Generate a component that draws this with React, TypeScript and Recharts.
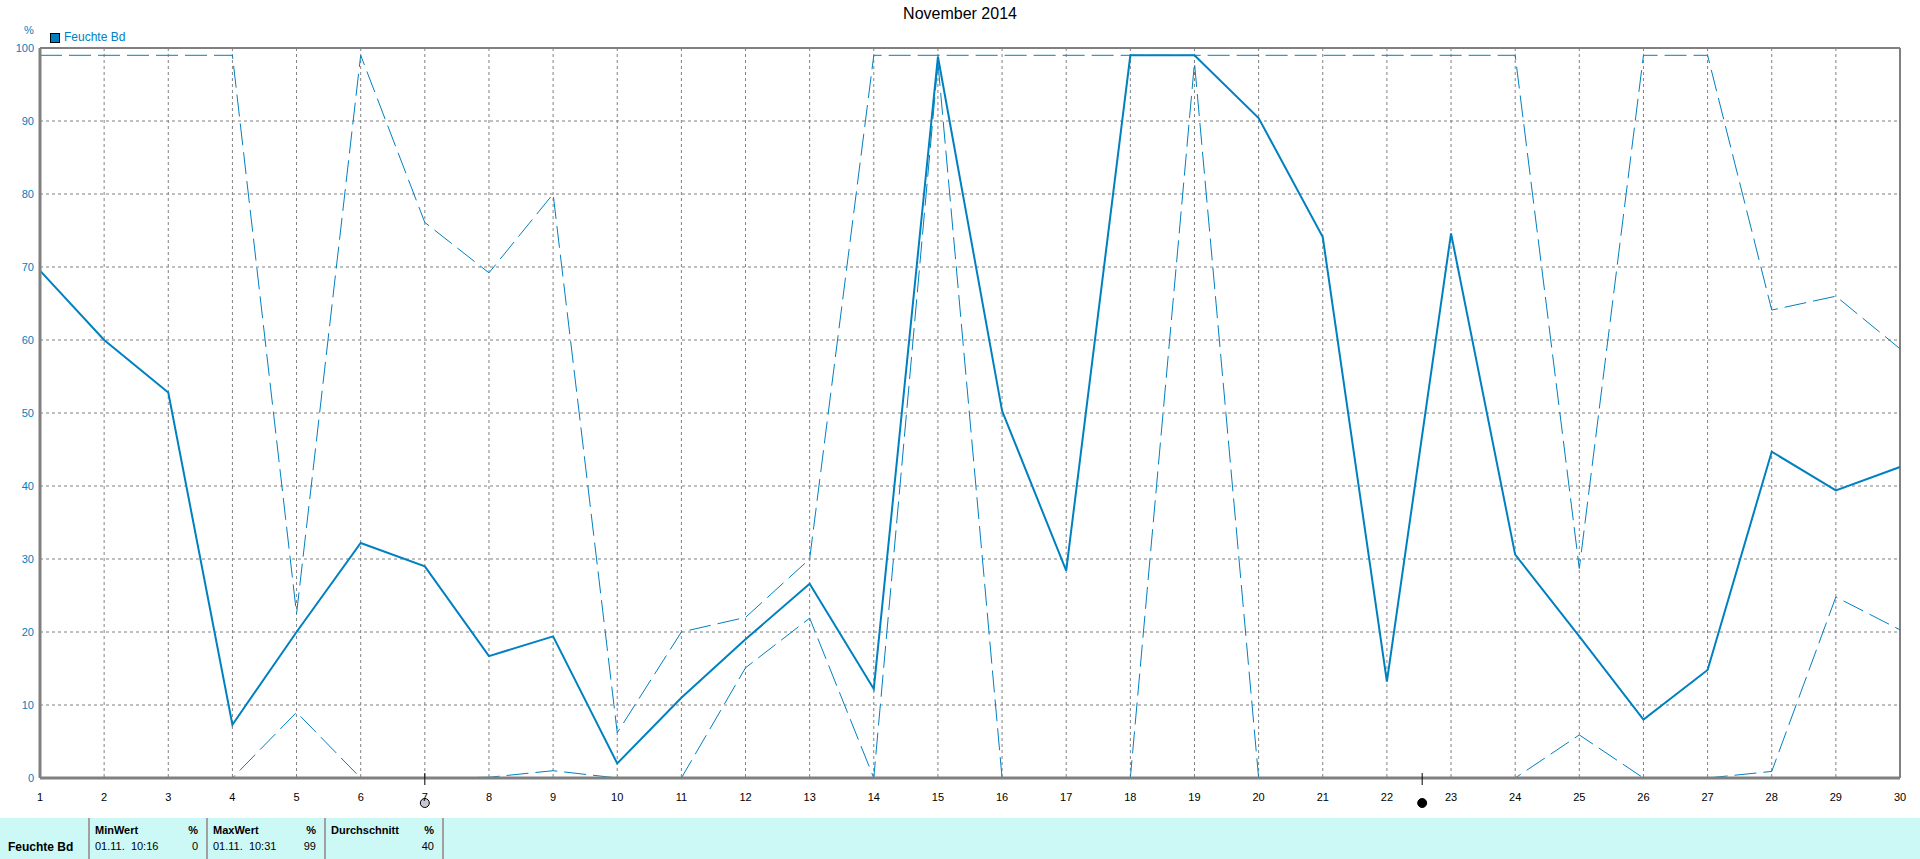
import { LineChart, Line, XAxis, YAxis, CartesianGrid, ReferenceLine, ReferenceDot } from 'recharts';

const days = [1, 2, 3, 4, 5, 6, 7, 8, 9, 10, 11, 12, 13, 14, 15, 16, 17, 18, 19, 20, 21, 22, 23, 24, 25, 26, 27, 28, 29, 30];

// Tagesmittel, Maximum, Minimum der Feuchte (%)
const humAvg = [69.5, 60, 52.8, 7.3, 20, 32.2, 29, 16.7, 19.4, 2, 11, 19, 26.6, 12.2, 98.8, 50.3, 28.4, 99, 99, 90.4, 74.1, 13.2, 74.6, 30.6, 19.4, 8, 14.8, 44.7, 39.4, 42.6];
const humMax = [99, 99, 99, 99, 22.5, 99, 76.1, 69.2, 80, 6.2, 20, 22, 30, 99, 99, 99, 99, 99, 99, 99, 99, 99, 99, 99, 28.7, 99, 99, 64.1, 66, 58.8];
const humMin = [0, 0, 0, 0, 9, 0, 0, 0.1, 1, 0, 0, 15.1, 21.9, 0, 98, 0, 0, 0, 98, 0, 0, 0, 0, 0, 5.9, 0, 0, 0.9, 24.8, 20.3];

const yTicks = [0, 10, 20, 30, 40, 50, 60, 70, 80, 90, 100];

// Mondphasen: Vollmond, Neumond
const moonDays = [7, 22.55];
const moonFill = ['#c8c8c8', '#000000'];

const statHeaders = ['MinWert', 'MaxWert', 'Durchschnitt'];
const statTimes = ['01.11.  10:16', '01.11.  10:31', ''];
const statValues = ['0', '99', '40'];

const BLUE = '#0080c0';
const GRAY = '#808080';

const chartData = days.map((d, i) => ({ day: d, avg: humAvg[i], max: humMax[i], min: humMin[i] }));

const MoonMark = (fill: string) => (props: any) => {
  const { cx, cy } = props;
  return (
    <g>
      <line x1={cx} y1={cy - 5} x2={cx} y2={cy + 7} stroke="#000" strokeWidth={1} />
      <circle cx={cx} cy={cy + 25} r={4.5} fill={fill} stroke="#000" strokeWidth={1} />
    </g>
  );
};

const App = () => {
  return (
    <div style={{ position: 'absolute', left: 0, top: 0, width: 1920, height: 859, background: '#fff', fontFamily: '"Liberation Sans", Arial, sans-serif', overflow: 'hidden' }}>
      <div style={{ position: 'absolute', left: 0, width: 1920, top: 5, textAlign: 'center', fontSize: 16, color: '#000' }}>November 2014</div>
      <div style={{ position: 'absolute', left: 24, top: 24, fontSize: 11, color: BLUE }}>%</div>
      <div style={{ position: 'absolute', left: 50, top: 33, width: 8, height: 8, background: BLUE, border: '1px solid #000' }} />
      <div style={{ position: 'absolute', left: 64, top: 30, fontSize: 12, color: BLUE }}>Feuchte Bd</div>

      <div style={{ position: 'absolute', left: 0, top: 0 }}>
        <LineChart width={1920} height={818} data={chartData} margin={{ top: 48, right: 20, left: 0, bottom: 0 }}>
          <CartesianGrid stroke={GRAY} strokeDasharray="3 3" />
          <XAxis
            dataKey="day"
            type="number"
            domain={[1, 30]}
            ticks={days}
            interval={0}
            height={40}
            tickLine={false}
            tickMargin={9}
            axisLine={{ stroke: GRAY, strokeWidth: 3 }}
            tick={{ fill: '#000', fontSize: 11 }}
          />
          <YAxis
            type="number"
            domain={[0, 100]}
            ticks={yTicks}
            interval={0}
            width={40}
            tickLine={false}
            tickSize={0}
            tickMargin={6}
            axisLine={{ stroke: GRAY, strokeWidth: 3 }}
            tick={{ fill: BLUE, fontSize: 11 }}
          />
          <ReferenceLine y={100} stroke={GRAY} strokeWidth={2} />
          <ReferenceLine x={30} stroke={GRAY} strokeWidth={2} />
          <Line type="linear" dataKey="max" stroke={BLUE} strokeWidth={1} strokeDasharray="22 7" dot={false} isAnimationActive={false} />
          <Line type="linear" dataKey="min" stroke={BLUE} strokeWidth={1} strokeDasharray="22 7" dot={false} isAnimationActive={false} />
          <Line type="linear" dataKey="avg" stroke={BLUE} strokeWidth={2} dot={false} isAnimationActive={false} />
          {moonDays.map((d, i) => (
            <ReferenceDot key={d} x={d} y={0} r={0} ifOverflow="visible" shape={MoonMark(moonFill[i])} />
          ))}
        </LineChart>
      </div>

      <div style={{ position: 'absolute', left: 0, top: 818, width: 1920, height: 41, background: '#ccf9f6', fontSize: 11, color: '#000' }}>
        <div style={{ position: 'absolute', left: 8, top: 22, fontWeight: 'bold', fontSize: 12 }}>Feuchte Bd</div>
        {statHeaders.map((h, i) => {
          const left = 88 + i * 118;
          return (
            <div key={h}>
              <div style={{ position: 'absolute', left: left, top: 0, width: 2, height: 41, background: '#a0a0a0' }} />
              <div style={{ position: 'absolute', left: left + 7, top: 6, fontWeight: 'bold' }}>{h}</div>
              <div style={{ position: 'absolute', left: left + 7, width: 103, top: 6, fontWeight: 'bold', textAlign: 'right' }}>%</div>
              <div style={{ position: 'absolute', left: left + 7, top: 22, whiteSpace: 'pre' }}>{statTimes[i]}</div>
              <div style={{ position: 'absolute', left: left + 7, width: 103, top: 22, textAlign: 'right' }}>{statValues[i]}</div>
            </div>
          );
        })}
        <div style={{ position: 'absolute', left: 442, top: 0, width: 2, height: 41, background: '#a0a0a0' }} />
      </div>
    </div>
  );
};

export default App;
